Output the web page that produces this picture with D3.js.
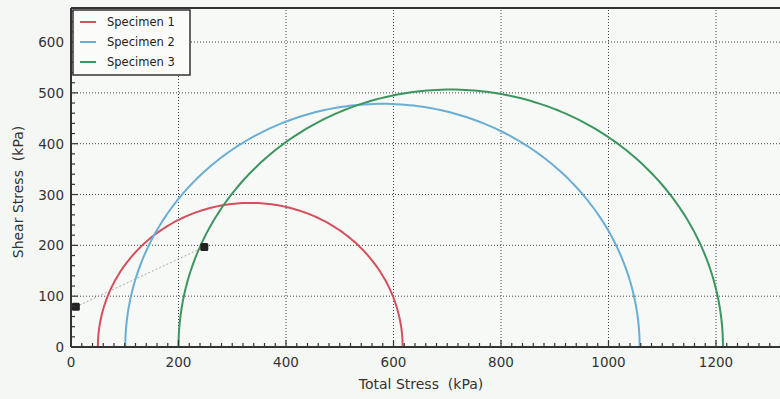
<!DOCTYPE html>
<html>
<head>
<meta charset="utf-8">
<script src="https://cdn.jsdelivr.net/npm/d3@7"></script>
<style>
  body { margin: 0; background: #f4f7f3; }
  svg { display: block; font-family: "DejaVu Sans", sans-serif; }
</style>
</head>
<body>
<script>
// specimen data (kPa)
var specimens = ["Specimen 1", "Specimen 2", "Specimen 3"];
var sigma3 = [50, 101, 200];
var sigma1 = [617, 1058, 1213];
var colors = ["#d4505e", "#6aaed6", "#3d9660"];

// measured points (total stress, shear stress)
var pointX = [9, 248];
var pointY = [79, 197];

var xTicks = [0, 200, 400, 600, 800, 1000, 1200];
var yTicks = [0, 100, 200, 300, 400, 500, 600];

var W = 780, H = 399;
var margin = {top: 8, left: 71, bottom: 52};

var svg = d3.select("body").append("svg")
    .attr("width", W)
    .attr("height", H);

var x = d3.scaleLinear().domain([0, 1320]).range([margin.left, margin.left + 1320 * 0.5375]);
var y = d3.scaleLinear().domain([0, 667]).range([H - margin.bottom, margin.top]);

// plot background
svg.append("rect")
    .attr("x", x(0)).attr("y", y(667))
    .attr("width", W - x(0)).attr("height", y(0) - y(667))
    .attr("fill", "#f6f9f5");

// grid
svg.append("g").selectAll("line")
    .data(xTicks.slice(1))
  .enter().append("line")
    .attr("x1", function(d) { return x(d); }).attr("x2", function(d) { return x(d); })
    .attr("y1", y(0)).attr("y2", y(667))
    .attr("stroke", "#444").attr("stroke-dasharray", "1,2");
svg.append("g").selectAll("line")
    .data(yTicks.slice(1))
  .enter().append("line")
    .attr("x1", x(0)).attr("x2", W)
    .attr("y1", function(d) { return y(d); }).attr("y2", function(d) { return y(d); })
    .attr("stroke", "#444").attr("stroke-dasharray", "1,2");

// top frame
svg.append("line")
    .attr("x1", x(0)).attr("x2", W)
    .attr("y1", y(667)).attr("y2", y(667))
    .attr("stroke", "#333").attr("stroke-width", 2);

// dotted line between points
svg.append("line")
    .attr("x1", x(pointX[0])).attr("y1", y(pointY[0]))
    .attr("x2", x(pointX[1])).attr("y2", y(pointY[1]))
    .attr("stroke", "#aaa").attr("stroke-dasharray", "2,2");

// mohr circles
var arc = d3.line()
    .x(function(d) { return x(d[0]); })
    .y(function(d) { return y(d[1]); });

specimens.forEach(function(name, i) {
  var c = (sigma1[i] + sigma3[i]) / 2, r = (sigma1[i] - sigma3[i]) / 2;
  var pts = d3.range(0, 181).map(function(a) {
    var t = Math.PI - a * Math.PI / 180;
    return [c + r * Math.cos(t), r * Math.sin(t)];
  });
  svg.append("path")
      .attr("d", arc(pts))
      .attr("fill", "none")
      .attr("stroke", colors[i])
      .attr("stroke-width", 2);
});

// points
svg.selectAll(".pt")
    .data(pointX)
  .enter().append("rect")
    .attr("class", "pt")
    .attr("x", function(d) { return x(d) - 4; })
    .attr("y", function(d, i) { return y(pointY[i]) - 4; })
    .attr("width", 8).attr("height", 8)
    .attr("rx", 1.5)
    .attr("fill", "#222");

// axes
var xAxis = svg.append("g")
    .attr("transform", "translate(0," + y(0) + ")");
xAxis.append("line").attr("x1", x(0)).attr("x2", W).attr("stroke", "#333").attr("stroke-width", 2);
xAxis.selectAll(".minor")
    .data(d3.range(0, 1321, 20))
  .enter().append("line")
    .attr("x1", function(d) { return x(d); }).attr("x2", function(d) { return x(d); })
    .attr("y1", 0).attr("y2", function(d) { return d % 200 === 0 ? -7 : -4; })
    .attr("stroke", "#333").attr("stroke-width", 1.2);
xAxis.selectAll("text")
    .data(xTicks)
  .enter().append("text")
    .attr("x", function(d) { return x(d); })
    .attr("y", 20)
    .attr("text-anchor", "middle")
    .attr("font-size", 13.5)
    .attr("fill", "#333")
    .text(function(d) { return d; });

var yAxis = svg.append("g")
    .attr("transform", "translate(" + x(0) + ",0)");
yAxis.append("line").attr("y1", y(0)).attr("y2", y(667)).attr("stroke", "#333").attr("stroke-width", 2);
yAxis.selectAll(".minor")
    .data(d3.range(0, 661, 20))
  .enter().append("line")
    .attr("y1", function(d) { return y(d); }).attr("y2", function(d) { return y(d); })
    .attr("x1", 0).attr("x2", function(d) { return d % 100 === 0 ? 7 : 4; })
    .attr("stroke", "#333").attr("stroke-width", 1.2);
yAxis.selectAll("text")
    .data(yTicks)
  .enter().append("text")
    .attr("x", -7)
    .attr("y", function(d) { return y(d) + 5; })
    .attr("text-anchor", "end")
    .attr("font-size", 13.5)
    .attr("fill", "#333")
    .text(function(d) { return d; });

// axis titles
svg.append("text")
    .attr("x", 421).attr("y", 389)
    .attr("text-anchor", "middle")
    .attr("font-size", 14)
    .attr("fill", "#333")
    .attr("xml:space", "preserve")
    .style("white-space", "pre")
    .text("Total Stress  (kPa)");
svg.append("text")
    .attr("transform", "translate(23," + 192 + ") rotate(-90)")
    .attr("text-anchor", "middle")
    .attr("font-size", 14)
    .attr("fill", "#333")
    .style("white-space", "pre")
    .text("Shear Stress  (kPa)");

// legend
var legend = svg.append("g");
legend.append("rect")
    .attr("x", 73).attr("y", 10)
    .attr("width", 117).attr("height", 65)
    .attr("fill", "#fbfcfa")
    .attr("stroke", "#333").attr("stroke-width", 1.5);
specimens.forEach(function(name, i) {
  var ly = 22 + i * 20;
  legend.append("line")
      .attr("x1", 80).attr("x2", 96)
      .attr("y1", ly).attr("y2", ly)
      .attr("stroke", colors[i]).attr("stroke-width", 2);
  legend.append("text")
      .attr("x", 107).attr("y", ly + 4)
      .attr("font-size", 11.5)
      .attr("fill", "#222")
      .text(name);
});
</script>
</body>
</html>
